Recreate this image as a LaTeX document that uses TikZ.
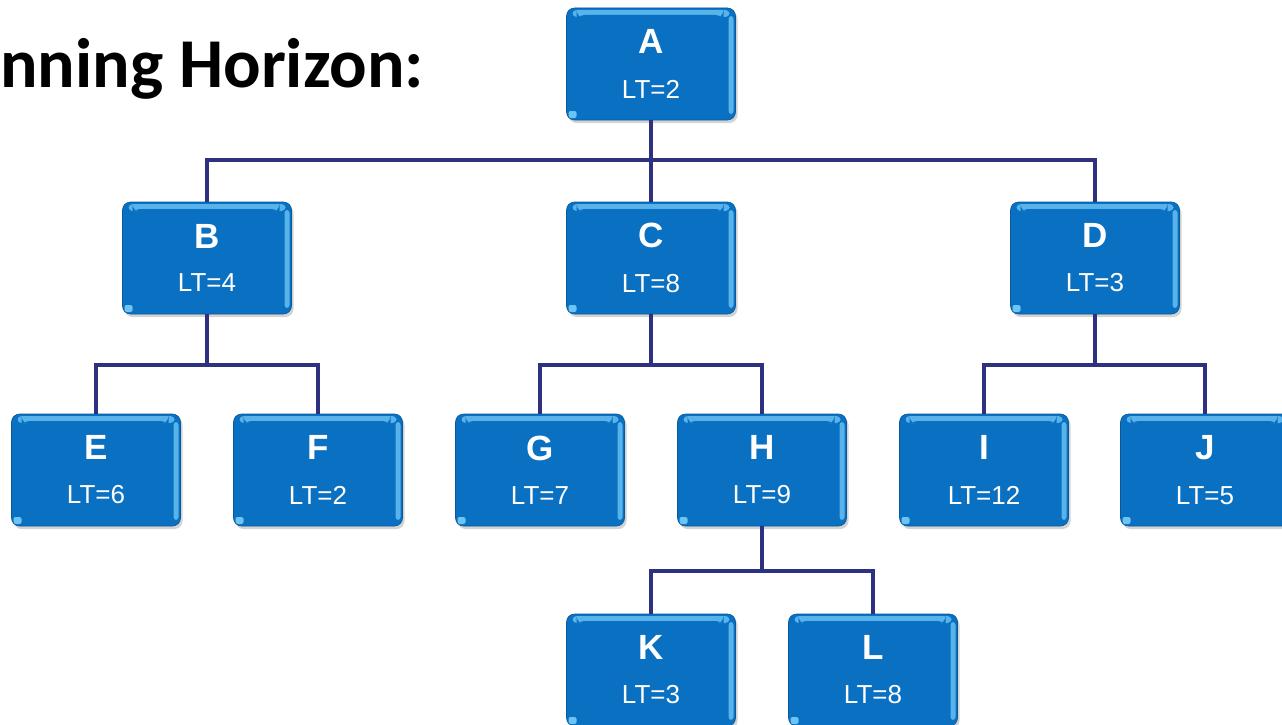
\documentclass[tikz,border=0pt]{standalone}
\usepackage{fontspec}
\setmainfont{Liberation Sans}
\newfontfamily\titlefont{Carlito}
\usetikzlibrary{shadows}
\definecolor{boxblue}{HTML}{0A70C2}
\definecolor{hilite}{HTML}{6CC4F4}
\definecolor{navy}{HTML}{2E3180}
\tikzset{
  box/.style={rounded corners=8pt, fill=boxblue, draw=boxblue!80!black, line width=0.6pt,
    minimum width=169pt, minimum height=112pt, inner sep=0pt, text=white, align=center,
    drop shadow={opacity=0.35, shadow xshift=2pt, shadow yshift=-3pt},
    path picture={
      \fill[hilite, opacity=0.8, rounded corners=4pt]
        ([xshift=6pt,yshift=-2pt]path picture bounding box.north west) rectangle
        ([xshift=-6pt,yshift=-9pt]path picture bounding box.north east);
      \fill[boxblue] ([xshift=10pt,yshift=-7pt]path picture bounding box.north west) rectangle
        ([xshift=-12pt,yshift=-10pt]path picture bounding box.north east);
      \fill[hilite, opacity=0.8, rounded corners=3pt]
        ([xshift=-7pt,yshift=-8pt]path picture bounding box.north east) rectangle
        ([xshift=-2pt,yshift=6pt]path picture bounding box.south east);
      \fill[hilite, rounded corners=2pt]
        ([xshift=2pt,yshift=2pt]path picture bounding box.south west) rectangle
        ([xshift=10pt,yshift=9pt]path picture bounding box.south west);
    }},
  wire/.style={draw=navy, line width=4pt},
  ttl/.style={font=\titlefont\bfseries\fontsize{70}{70}\selectfont, inner sep=0pt}
}
\newcommand{\nd}[2]{{\bfseries\fontsize{35}{35}\selectfont #1}\\[25pt]{\fontsize{26}{26}\selectfont LT=#2}}
\begin{document}
\begin{tikzpicture}[x=1pt,y=-1pt]
\useasboundingbox (0,0) rectangle (1282,725);
\clip (0,0) rectangle (1282,725);
\node[ttl, anchor=base west] (title) at (0,87) {nning Horizon:};

\coordinate (bA) at (651,160);
\coordinate (bB) at (207,365);
\coordinate (bC) at (651,365);
\coordinate (bD) at (1095,365);
\coordinate (bH) at (762,571);

\node[box] (A) at (651,64) {\nd{A}{2}};
\node[box] (B) at (207,258) {\nd{B}{4}};
\node[box] (C) at (651,258) {\nd{C}{8}};
\node[box] (D) at (1095,258) {\nd{D}{3}};
\node[box] (E) at (96,470) {\nd{E}{6}};
\node[box] (F) at (318,470) {\nd{F}{2}};
\node[box] (G) at (540,470) {\nd{G}{7}};
\node[box] (H) at (762,470) {\nd{H}{9}};
\node[box] (I) at (984,470) {\nd{I}{12}};
\node[box] (J) at (1205,470) {\nd{J}{5}};
\node[box] (K) at (651,670) {\nd{K}{3}};
\node[box] (L) at (873,670) {\nd{L}{8}};

\draw[wire] (A.south) -- (bA);
\draw[wire] (B.north) |- (bA) -| (D.north);
\draw[wire] (bA) -- (C.north);
\draw[wire] (B.south) -- (bB);
\draw[wire] (E.north) |- (bB) -| (F.north);
\draw[wire] (C.south) -- (bC);
\draw[wire] (G.north) |- (bC) -| (H.north);
\draw[wire] (D.south) -- (bD);
\draw[wire] (I.north) |- (bD) -| (J.north);
\draw[wire] (H.south) -- (bH);
\draw[wire] (K.north) |- (bH) -| (L.north);
\end{tikzpicture}
\end{document}
